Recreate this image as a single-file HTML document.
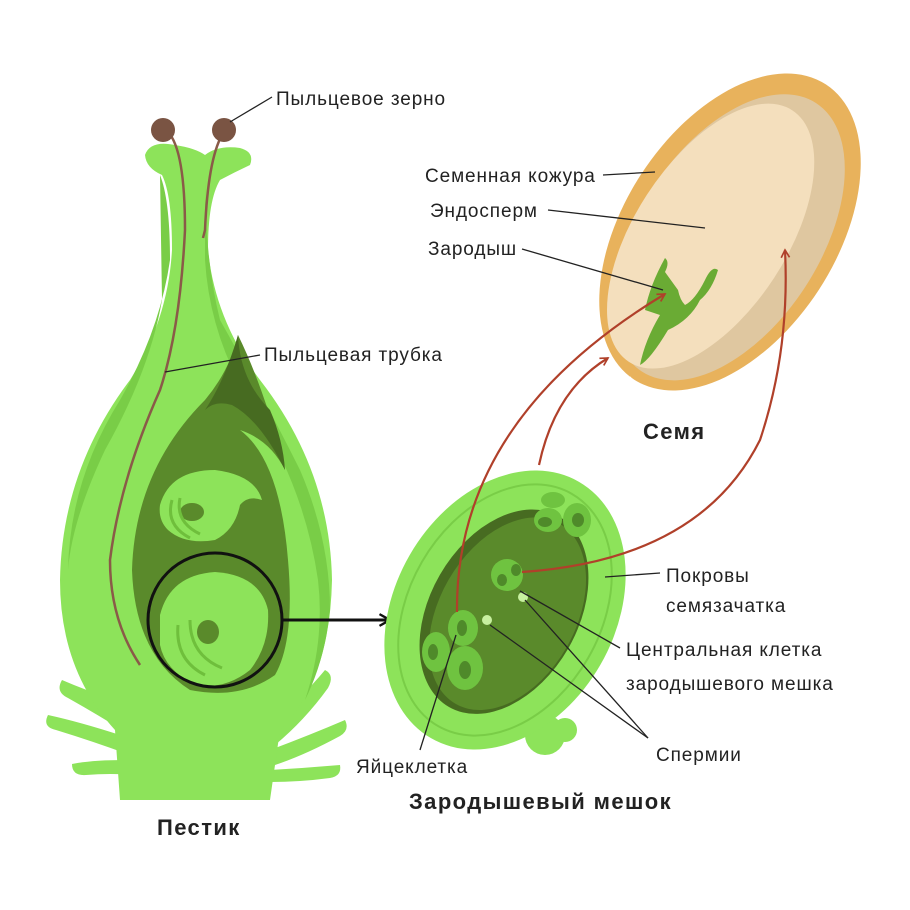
<!DOCTYPE html>
<html><head><meta charset="utf-8"><style>
html,body{margin:0;padding:0;background:#fff}
svg{display:block}
text{font-family:"Liberation Sans",sans-serif;fill:#222}
</style></head><body>
<svg width="910" height="910" viewBox="0 0 910 910">
<defs>
<marker id="ah" viewBox="0 0 12 12" refX="10" refY="6" markerWidth="10" markerHeight="10" orient="auto" markerUnits="userSpaceOnUse"><path d="M1,1 L10,6 L1,11" fill="none" stroke="#b0402a" stroke-width="2"/></marker>
<marker id="bh" viewBox="0 0 12 12" refX="10" refY="6" markerWidth="14" markerHeight="14" orient="auto" markerUnits="userSpaceOnUse"><path d="M1,1 L10,6 L1,11" fill="none" stroke="#111" stroke-width="2"/></marker>
</defs>

<g fill="#8de35a" stroke="none">
<path d="M115,700 Q85,690 62,680 Q55,692 68,698 Q100,716 130,735 Z"/>
<path d="M120,735 Q80,722 48,715 Q42,727 56,730 Q95,742 130,755 Z"/>
<path d="M125,760 Q92,760 72,764 Q72,776 86,775 Q110,773 135,775 Z"/>
<path d="M265,730 Q300,700 325,670 Q335,675 328,688 Q305,720 275,745 Z"/>
<path d="M270,750 Q310,735 345,720 Q350,730 340,736 Q305,755 275,765 Z"/>
<path d="M270,770 Q305,768 340,765 Q342,776 330,778 Q300,782 270,782 Z"/>
</g>
<path d="M145,155 Q150,140 175,145 Q195,148 205,155 Q218,145 240,148 Q255,152 250,165 Q235,172 220,180 Q208,200 208,250 Q215,320 260,380 Q330,470 332,580 Q330,680 280,730 L270,800 L120,800 L115,730 Q60,670 60,580 Q62,470 130,380 Q168,320 172,250 Q172,195 162,175 Q146,168 145,155 Z" fill="#8de35a"/>
<path d="M205,180 Q205,260 220,320 Q265,400 300,470 Q330,540 330,610 Q325,660 305,700 Q325,640 318,580 Q305,490 255,410 Q210,340 205,260 Z" fill="#79cd47"/>
<path d="M160,175 Q170,200 170,260 Q160,330 120,400 Q70,480 68,570 Q72,520 105,450 Q150,370 162,300 Z" fill="#79cd47"/>
<path d="M238,335 Q230,370 205,400 Q135,470 132,570 Q135,655 190,690 Q240,700 275,675 Q295,640 288,560 Q280,460 240,430 Q270,440 285,470 Q265,390 238,335 Z" fill="#5a8a2b"/>
<path d="M238,335 Q240,380 270,410 Q283,440 285,470 Q260,420 232,405 Q215,400 205,410 Q225,380 238,335 Z" fill="#476b21"/>
<path d="M160,505 Q170,470 215,470 Q255,475 262,500 Q248,495 240,505 Q235,530 215,540 Q185,545 168,530 Q158,520 160,505 Z" fill="#8de35a"/>
<ellipse cx="192" cy="512" rx="12" ry="9" fill="#5a8a2b"/>
<path d="M172,500 Q165,525 190,538" fill="none" stroke="#6fbf3c" stroke-width="3"/>
<path d="M180,498 Q175,522 200,534" fill="none" stroke="#6fbf3c" stroke-width="3"/>
<path d="M160,615 Q170,575 215,572 Q260,575 268,610 Q270,645 250,670 Q225,690 195,685 Q165,670 160,645 Z" fill="#8de35a"/>
<ellipse cx="208" cy="632" rx="11" ry="12" fill="#5a8a2b"/>
<path d="M178,625 Q175,660 205,675" fill="none" stroke="#6fbf3c" stroke-width="3"/>
<path d="M190,620 Q190,655 222,668" fill="none" stroke="#6fbf3c" stroke-width="3"/>
<path d="M168,132 Q185,150 185,230 Q180,330 160,390 Q120,480 110,560 Q110,620 140,665" fill="none" stroke="#8a5a48" stroke-width="2.5"/>
<path d="M222,135 Q208,160 205,230 L203,238" fill="none" stroke="#8a5a48" stroke-width="2.5"/>
<circle cx="163" cy="130" r="12" fill="#7a5443"/>
<circle cx="224" cy="130" r="12" fill="#7a5443"/>
<ellipse cx="215" cy="620" rx="67" ry="67" fill="none" stroke="#111" stroke-width="3"/>
<line x1="282" y1="620" x2="390" y2="620" stroke="#111" stroke-width="3" marker-end="url(#bh)"/>

<circle cx="545" cy="735" r="20" fill="#8de35a"/>
<circle cx="565" cy="730" r="12" fill="#8de35a"/>
<g transform="rotate(30 505 610)">
<ellipse cx="505" cy="610" rx="110" ry="148" fill="#8de35a"/>
<ellipse cx="505" cy="610" rx="96" ry="134" fill="none" stroke="#79cd47" stroke-width="2"/>
<ellipse cx="505" cy="612" rx="74" ry="110" fill="#476b21"/>
<ellipse cx="509" cy="612" rx="68" ry="104" fill="#5a8a2b"/>
</g>
<g fill="#6fc340">
<ellipse cx="463" cy="628" rx="15" ry="18"/>
<ellipse cx="436" cy="652" rx="14" ry="20"/>
<ellipse cx="465" cy="668" rx="18" ry="22"/>
<ellipse cx="548" cy="520" rx="14" ry="12"/>
<ellipse cx="577" cy="520" rx="14" ry="17"/>
<ellipse cx="553" cy="500" rx="12" ry="8"/>
<ellipse cx="507" cy="575" rx="16" ry="16"/>
</g>
<g fill="#4f8a2a">
<ellipse cx="462" cy="628" rx="5" ry="8"/>
<ellipse cx="433" cy="652" rx="5" ry="8"/>
<ellipse cx="465" cy="670" rx="6" ry="9"/>
<ellipse cx="545" cy="522" rx="7" ry="5"/>
<ellipse cx="578" cy="520" rx="6" ry="7"/>
<ellipse cx="502" cy="580" rx="5" ry="6"/>
<ellipse cx="516" cy="570" rx="5" ry="6"/>
</g>
<circle cx="523" cy="597" r="5" fill="#c8f0a0"/>
<circle cx="487" cy="620" r="5" fill="#c8f0a0"/>

<g transform="rotate(33 730 232)">
<ellipse cx="730" cy="232" rx="106" ry="176" fill="#e8b25c"/>
<ellipse cx="732" cy="237" rx="91" ry="160" fill="#dfc7a0"/>
<ellipse cx="716" cy="246" rx="76" ry="150" fill="#f4dfbd"/>
</g>
<path d="M610,372 Q620,384 632,380" stroke="#fff" stroke-width="7" fill="none"/>
<path d="M665,272 Q670,262 665,258 Q650,285 645,310 L660,315 Q645,340 640,365 Q650,360 668,330 Q690,320 700,300 Q712,290 718,270 Q712,265 705,280 Q695,300 685,305 Q680,300 678,290 Z" fill="#6aab34"/>

<g fill="none" stroke="#b0402a" stroke-width="2.2" marker-end="url(#ah)">
<path d="M457,612 Q455,420 665,294"/>
<path d="M539,465 Q555,390 608,358"/>
<path d="M522,572 Q700,560 760,440 Q790,350 785,250"/>
</g>

<g stroke="#222" stroke-width="1.3" fill="none">
<line x1="272" y1="97" x2="230" y2="122"/>
<line x1="260" y1="355" x2="165" y2="372"/>
<line x1="603" y1="175" x2="655" y2="172"/>
<line x1="548" y1="210" x2="705" y2="228"/>
<line x1="522" y1="249" x2="663" y2="290"/>
<line x1="660" y1="573" x2="605" y2="577"/>
<line x1="620" y1="648" x2="520" y2="591"/>
<line x1="648" y1="738" x2="525" y2="600"/>
<line x1="648" y1="738" x2="490" y2="625"/>
<line x1="420" y1="750" x2="456" y2="635"/>
</g>

<g font-size="19" letter-spacing="0.9">
<text x="276" y="105">Пыльцевое зерно</text>
<text x="264" y="361">Пыльцевая трубка</text>
<text x="425" y="182">Семенная кожура</text>
<text x="430" y="217">Эндосперм</text>
<text x="428" y="255">Зародыш</text>
<text x="666" y="582">Покровы</text>
<text x="666" y="612">семязачатка</text>
<text x="626" y="656">Центральная клетка</text>
<text x="626" y="690">зародышевого мешка</text>
<text x="656" y="761">Спермии</text>
<text x="356" y="773">Яйцеклетка</text>
</g>
<g font-size="22" font-weight="bold" letter-spacing="1.4">
<text x="643" y="439">Семя</text>
<text x="409" y="809">Зародышевый мешок</text>
<text x="157" y="835">Пестик</text>
</g>
</svg>
</body></html>
